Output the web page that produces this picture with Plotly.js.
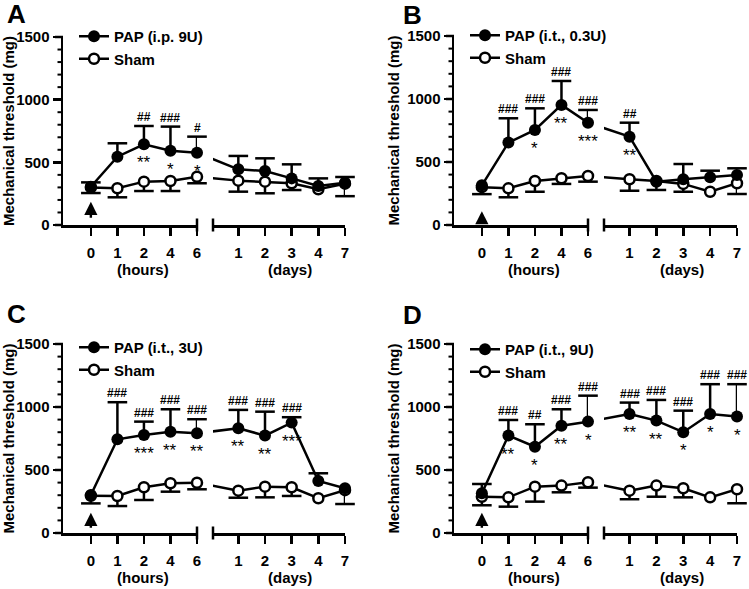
<!DOCTYPE html>
<html>
<head>
<meta charset="utf-8">
<script src="https://cdn.plot.ly/plotly-3.0.1.min.js"></script>
<style>
  html, body { margin: 0; padding: 0; background: #fff; }
  #chart { width: 749px; height: 589px; }
</style>
</head>
<body>
<div id="chart"></div>
<script>
const W = 749, H = 589;
const FONT = 'Arial, "Liberation Sans", sans-serif';

const hourLabels = ['0', '1', '2', '4', '6'];
const dayLabels = ['1', '2', '3', '4', '7'];
const panelLetters = ['A', 'B', 'C', 'D'];
const papNames = ['PAP (i.p. 9U)', 'PAP (i.t., 0.3U)', 'PAP (i.t., 3U)', 'PAP (i.t., 9U)'];

// Mechanical threshold (mg): mean and error (PAP error up, Sham error down)
const papHoursA = [305, 545, 644, 593, 577];
const papHoursErrA = [35, 107, 146, 192, 128];
const shamHoursA = [300, 293, 346, 351, 385];
const shamHoursErrA = [45, 72, 75, 80, 52];
const papDaysA = [444, 431, 372, 311, 338];
const papDaysErrA = [107, 101, 112, 61, 45];
const shamDaysA = [354, 346, 333, 285, 330];
const shamDaysErrA = [88, 93, 54, 0, 100];

const papHoursB = [315, 654, 754, 953, 812];
const papHoursErrB = [0, 193, 172, 190, 101];
const shamHoursB = [300, 291, 349, 371, 389];
const shamHoursErrB = [55, 71, 85, 45, 45];
const papDaysB = [701, 344, 363, 379, 397];
const papDaysErrB = [111, 0, 121, 52, 53];
const shamDaysB = [363, 350, 326, 264, 331];
const shamDaysErrB = [91, 72, 62, 0, 85];

const papHoursC = [302, 744, 778, 804, 791];
const papHoursErrC = [0, 294, 106, 178, 112];
const shamHoursC = [295, 294, 363, 395, 399];
const shamHoursErrC = [60, 80, 101, 67, 52];
const papDaysC = [831, 773, 876, 413, 355];
const papDaysErrC = [146, 190, 43, 61, 0];
const shamDaysC = [336, 368, 363, 276, 340];
const shamDaysErrC = [56, 85, 69, 0, 110];

const papHoursD = [315, 773, 685, 852, 884];
const papHoursErrD = [74, 124, 178, 130, 206];
const shamHoursD = [288, 283, 368, 376, 403];
const shamHoursErrD = [68, 74, 119, 53, 43];
const papDaysD = [945, 892, 800, 945, 924];
const papDaysErrD = [90, 164, 171, 236, 257];
const shamDaysD = [336, 376, 355, 283, 347];
const shamDaysErrD = [68, 88, 72, 0, 111];

// significance marks: # above error bar, * below point
const hashHoursA = ['', '', '##', '###', '#'];
const starHoursA = ['', '', '**', '*', '*'];
const hashDaysA = ['', '', '', '', ''];
const starDaysA = ['', '', '', '', ''];
const hashHoursB = ['', '###', '###', '###', '###'];
const starHoursB = ['', '', '*', '**', '***'];
const hashDaysB = ['##', '', '', '', ''];
const starDaysB = ['**', '', '', '', ''];
const hashHoursC = ['', '###', '###', '###', '###'];
const starHoursC = ['', '', '***', '**', '**'];
const hashDaysC = ['###', '###', '###', '', ''];
const starDaysC = ['**', '**', '***', '', ''];
const hashHoursD = ['', '###', '##', '###', '###'];
const starHoursD = ['', '**', '*', '**', '*'];
const hashDaysD = ['###', '###', '###', '###', '###'];
const starDaysD = ['**', '**', '*', '*', '*'];

const panels = [
    {papH: papHoursA, papHE: papHoursErrA, shamH: shamHoursA, shamHE: shamHoursErrA,
     papD: papDaysA, papDE: papDaysErrA, shamD: shamDaysA, shamDE: shamDaysErrA,
     hashH: hashHoursA, starH: starHoursA, hashD: hashDaysA, starD: starDaysA,
     box: {left: 63, hoursRight: 197, daysLeft: 213, right: 345, top: 37, bottom: 225},
     arrow: [185, 45], letter: [5, 14], legendTop: 20},
    {papH: papHoursB, papHE: papHoursErrB, shamH: shamHoursB, shamHE: shamHoursErrB,
     papD: papDaysB, papDE: papDaysErrB, shamD: shamDaysB, shamDE: shamDaysErrB,
     hashH: hashHoursB, starH: starHoursB, hashD: hashDaysB, starD: starDaysB,
     box: {left: 454, hoursRight: 588, daysLeft: 604, right: 737, top: 36, bottom: 225},
     arrow: [110, 10], letter: [401, 15], legendTop: 19},
    {papH: papHoursC, papHE: papHoursErrC, shamH: shamHoursC, shamHE: shamHoursErrC,
     papD: papDaysC, papDE: papDaysErrC, shamD: shamDaysC, shamDE: shamDaysErrC,
     hashH: hashHoursC, starH: starHoursC, hashD: hashDaysC, starD: starDaysC,
     box: {left: 63, hoursRight: 197, daysLeft: 213, right: 345, top: 344, bottom: 533},
     arrow: [160, 30], letter: [5, 314], legendTop: 331},
    {papH: papHoursD, papHE: papHoursErrD, shamH: shamHoursD, shamHE: shamHoursErrD,
     papD: papDaysD, papDE: papDaysErrD, shamD: shamDaysD, shamDE: shamDaysErrD,
     hashH: hashHoursD, starH: starHoursD, hashD: hashDaysD, starD: starDaysD,
     box: {left: 454, hoursRight: 588, daysLeft: 604, right: 737, top: 344, bottom: 533},
     arrow: [160, 30], letter: [401, 315], legendTop: 333}
];

const HOURS_RANGE = [-1.05, 4];
const DAYS_RANGE = [-0.95, 4];
const Y_RANGE = [0, 1500];
const Y_MAJOR = 500, Y_MINOR = 100;
const idx = [0, 1, 2, 3, 4];

function sfx(n) { return n === 1 ? '' : String(n); }

const axisStyle = {
    showline: true, linewidth: 2.5, linecolor: '#000',
    ticks: 'outside', ticklen: 8, tickwidth: 2.5, tickcolor: '#000',
    showgrid: false, zeroline: false, fixedrange: true,
    tickfont: {family: FONT, size: 15, weight: 'bold', color: '#000'}
};

const traces = [];
const layout = {
    width: W, height: H,
    margin: {l: 0, r: 0, t: 0, b: 0},
    paper_bgcolor: '#fff', plot_bgcolor: 'rgba(0,0,0,0)',
    font: {family: FONT, color: '#000'},
    showlegend: true,
    annotations: [], shapes: []
};

function errorTrace(xa, ya, vals, errs, up) {
    const zeros = errs.map(() => 0);
    return {
        x: idx, y: vals.map((v, i) => errs[i] ? (up ? v + errs[i] : v - errs[i]) : null),
        xaxis: xa, yaxis: ya, type: 'scatter', mode: 'markers',
        marker: {symbol: 'line-ew', size: 14, line: {width: 2.5, color: '#000'}},
        error_y: {type: 'data', symmetric: false,
                  array: up ? zeros : errs, arrayminus: up ? errs : zeros,
                  width: 0, thickness: 2.5, color: '#000'},
        cliponaxis: false, showlegend: false, hoverinfo: 'skip'
    };
}

panels.forEach((p, k) => {
    const b = p.box;
    const hx = 'x' + sfx(2 * k + 1), dx = 'x' + sfx(2 * k + 2), yy = 'y' + sfx(k + 1);
    const leg = 'legend' + sfx(k + 1);

    layout['xaxis' + sfx(2 * k + 1)] = Object.assign({}, axisStyle, {
        domain: [b.left / W, b.hoursRight / W], anchor: yy, range: HOURS_RANGE,
        tickmode: 'array', tickvals: idx, ticktext: hourLabels, ticklabelstandoff: 4
    });
    layout['xaxis' + sfx(2 * k + 2)] = Object.assign({}, axisStyle, {
        domain: [b.daysLeft / W, b.right / W], anchor: yy, range: DAYS_RANGE,
        tickmode: 'array', tickvals: idx, ticktext: dayLabels, ticklabelstandoff: 4
    });
    layout['yaxis' + sfx(k + 1)] = Object.assign({}, axisStyle, {
        domain: [1 - b.bottom / H, 1 - b.top / H], anchor: hx, range: Y_RANGE,
        tickmode: 'linear', tick0: 0, dtick: Y_MAJOR,
        title: {text: 'Mechanical threshold (mg)', standoff: 4,
                font: {family: FONT, size: 15, weight: 'bold', color: '#000'}}
    });

    // y tick marks (major 8 px, minor 5 px) as paper lines left of the y axis
    const pxPerUnit = (b.bottom - b.top) / (Y_RANGE[1] - Y_RANGE[0]);
    for (let v = Y_RANGE[0]; v <= Y_RANGE[1]; v += Y_MINOR) {
        const major = v % Y_MAJOR === 0;
        const py = b.bottom - (v - Y_RANGE[0]) * pxPerUnit;
        layout.shapes.push({
            type: 'line', xref: 'paper', yref: 'paper',
            x0: (b.left - (major ? 8 : 5.5)) / W, x1: b.left / W, y0: 1 - py / H, y1: 1 - py / H,
            line: {color: '#000', width: major ? 2.5 : 2}
        });
    }

    // error bars
    traces.push(errorTrace(hx, yy, p.shamH, p.shamHE, false));
    traces.push(errorTrace(dx, yy, p.shamD, p.shamDE, false));
    traces.push(errorTrace(hx, yy, p.papH, p.papHE, true));
    traces.push(errorTrace(dx, yy, p.papD, p.papDE, true));

    // connecting segment across the axis break, clipped at the days axis
    const daySpacing = (b.right - b.daysLeft) / (DAYS_RANGE[1] - DAYS_RANGE[0]);
    const xGap = DAYS_RANGE[0] - (b.daysLeft - b.hoursRight) / daySpacing;
    [[p.shamH, p.shamD], [p.papH, p.papD]].forEach(([h, d]) => {
        traces.push({
            x: [xGap, 0], y: [h[h.length - 1], d[0]], xaxis: dx, yaxis: yy,
            type: 'scatter', mode: 'lines', line: {color: '#000', width: 2.5},
            cliponaxis: true, showlegend: false, hoverinfo: 'skip'
        });
    });

    const shamStyle = {
        type: 'scatter', mode: 'lines+markers', line: {color: '#000', width: 2.5},
        marker: {symbol: 'circle', size: 10, color: '#fff', line: {color: '#000', width: 2.5}},
        cliponaxis: false, legend: leg, legendrank: 2, name: 'Sham'
    };
    const papStyle = {
        type: 'scatter', mode: 'lines+markers', line: {color: '#000', width: 2.5},
        marker: {symbol: 'circle', size: 12, color: '#000'},
        cliponaxis: false, legend: leg, legendrank: 1, name: papNames[k]
    };
    traces.push(Object.assign({x: idx, y: p.shamH, xaxis: hx, yaxis: yy, showlegend: true}, shamStyle));
    traces.push(Object.assign({x: idx, y: p.shamD, xaxis: dx, yaxis: yy, showlegend: false}, shamStyle));
    traces.push(Object.assign({x: idx, y: p.papH, xaxis: hx, yaxis: yy, showlegend: true}, papStyle));
    traces.push(Object.assign({x: idx, y: p.papD, xaxis: dx, yaxis: yy, showlegend: false}, papStyle));

    layout[leg] = {
        x: (b.left + 11) / W, y: 1 - p.legendTop / H, xanchor: 'left', yanchor: 'top',
        bgcolor: 'rgba(0,0,0,0)', borderwidth: 0, tracegroupgap: 0,
        font: {family: FONT, size: 15, weight: 'bold', color: '#000'}
    };

    // significance marks
    [[hx, p.papH, p.papHE, p.hashH, p.starH], [dx, p.papD, p.papDE, p.hashD, p.starD]].forEach(([xa, vals, errs, hashes, stars]) => {
        vals.forEach((v, i) => {
            if (hashes[i]) {
                layout.annotations.push({
                    xref: xa, yref: yy, x: i, y: v + errs[i], text: hashes[i],
                    showarrow: false, yanchor: 'bottom', yshift: 0,
                    font: {family: FONT, size: 12, weight: 'bold', color: '#000'}
                });
            }
            if (stars[i]) {
                layout.annotations.push({
                    xref: xa, yref: yy, x: i, y: v, text: stars[i],
                    showarrow: false, yanchor: 'top', yshift: -7,
                    font: {family: FONT, size: 17, color: '#000'}
                });
            }
        });
    });

    // axis break bars (paper coordinates so they are not clipped)
    [b.hoursRight, b.daysLeft].forEach(px => {
        layout.shapes.push({
            type: 'line', xref: 'paper', yref: 'paper',
            x0: px / W, x1: px / W, y0: 1 - (b.bottom + 6.5) / H, y1: 1 - (b.bottom - 6.5) / H,
            line: {color: '#000', width: 2.5}
        });
    });

    // injection arrow at time 0
    layout.annotations.push({
        xref: hx, yref: yy, axref: hx, ayref: yy, x: 0, y: p.arrow[0], ax: 0, ay: p.arrow[1],
        text: '', showarrow: true, arrowhead: 2, arrowsize: 1.1, arrowwidth: 2.4, arrowcolor: '#000'
    });

    // x axis group titles
    [[hx, '(hours)'], [dx, '(days)']].forEach(([xa, t]) => {
        layout.annotations.push({
            xref: xa, yref: 'paper', x: 1.95, y: 1 - (b.bottom + 44) / H, text: t,
            showarrow: false, yanchor: 'middle',
            font: {family: FONT, size: 15, weight: 'bold', color: '#000'}
        });
    });

    // panel letter
    layout.annotations.push({
        xref: 'paper', yref: 'paper', x: p.letter[0] / W, y: 1 - p.letter[1] / H,
        xanchor: 'left', yanchor: 'middle', text: panelLetters[k], showarrow: false,
        font: {family: FONT, size: 26, weight: 'bold', color: '#000'}
    });
});

Plotly.newPlot('chart', traces, layout, {staticPlot: true});
</script>
</body>
</html>
